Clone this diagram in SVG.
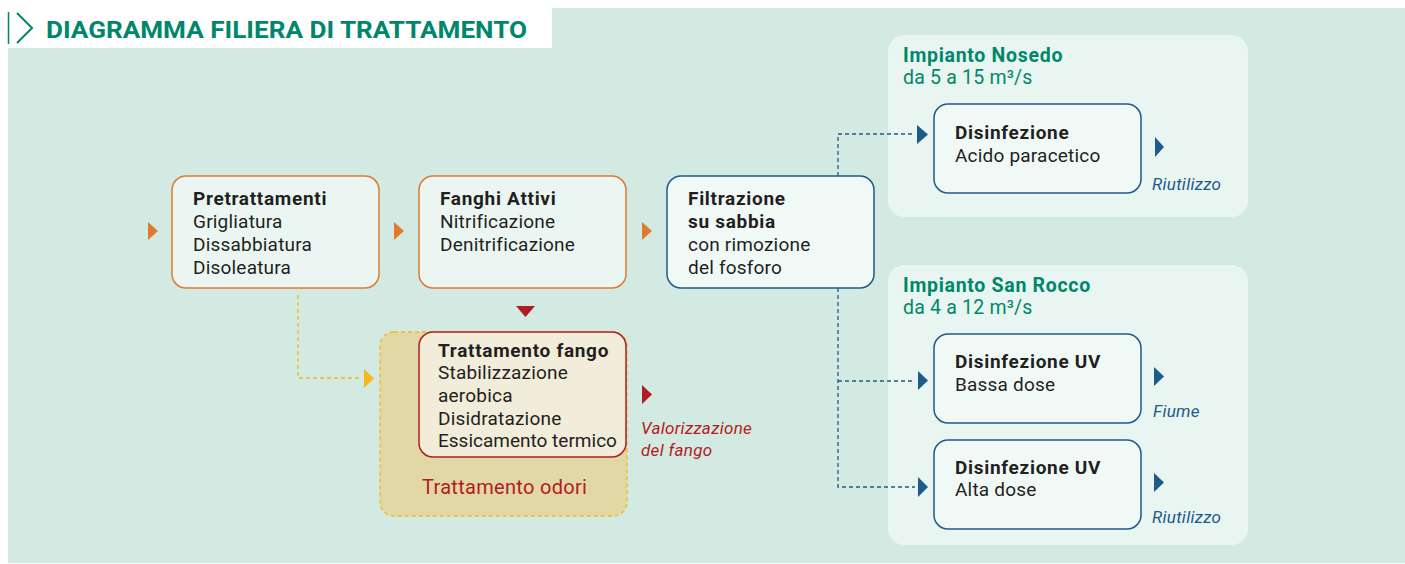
<svg xmlns="http://www.w3.org/2000/svg" width="1405" height="564" viewBox="0 0 1405 564">
<style>
text{font-family:Roboto,"Liberation Sans",sans-serif;font-size:19px;letter-spacing:0.2px;fill:#231f20}
.b{font-weight:bold;letter-spacing:0.7px}
.teal{fill:#00876a}
.h{font-size:19.5px}
.it{font-style:italic;font-size:17px;letter-spacing:0.3px}
.box{stroke-width:1.5}
.or{stroke:#e07a2e;fill:#ebf6f2}
.bl{stroke:#1f5a8c;fill:#f1f9f7}
.panel{fill:#e8f5f1}
.dashb{fill:none;stroke:#1f5a8c;stroke-width:1.3;stroke-dasharray:4 3}
.dashy{fill:none;stroke:#f6b81a;stroke-width:1.3;stroke-dasharray:4 3}
</style>
<rect x="0" y="0" width="1405" height="564" fill="#ffffff"/>
<rect x="8" y="8" width="1397" height="555" fill="#d2eae1"/>
<g id="title">
<rect x="8" y="8" width="544" height="40" fill="#ffffff"/>
<line x1="8.5" y1="12" x2="8.5" y2="44" stroke="#00876a" stroke-width="1.5"/>
<polyline points="17,13 32,28 17,43" fill="none" stroke="#00876a" stroke-width="2"/>
<text x="46" y="38" class="b teal" style="font-size:24px;letter-spacing:0" textLength="481" lengthAdjust="spacingAndGlyphs">DIAGRAMMA FILIERA DI TRATTAMENTO</text>
</g>
<g id="panel-nosedo">
<rect x="888" y="35" width="360" height="182" rx="16" class="panel"/>
<text x="903" y="62" class="b teal h">Impianto Nosedo</text>
<text x="903" y="84" class="teal h">da 5 a 15 m³/s</text>
</g>
<g id="panel-sanrocco">
<rect x="888" y="265" width="360" height="280" rx="16" class="panel"/>
<text x="903" y="292" class="b teal h">Impianto San Rocco</text>
<text x="903" y="314" class="teal h">da 4 a 12 m³/s</text>
</g>
<g id="odori">
<rect x="380" y="332" width="247" height="184" rx="14" fill="#e2d8a5" stroke="#f6b81a" stroke-width="1.3" stroke-dasharray="4 3"/>
<text x="422" y="494" style="fill:#b31b24;font-size:20px;letter-spacing:0.3px">Trattamento odori</text>
</g>
<g id="pretrattamenti">
<rect x="172" y="176" width="207" height="112" rx="14" class="box or"/>
<text x="193" y="205" class="b">Pretrattamenti</text>
<text x="193" y="228">Grigliatura</text>
<text x="193" y="251">Dissabbiatura</text>
<text x="193" y="274">Disoleatura</text>
</g>
<g id="fanghi-attivi">
<rect x="419" y="176" width="207" height="112" rx="14" class="box or"/>
<text x="440" y="205" class="b">Fanghi Attivi</text>
<text x="440" y="228">Nitrificazione</text>
<text x="440" y="251">Denitrificazione</text>
</g>
<g id="filtrazione">
<rect x="667" y="176" width="207" height="112" rx="14" class="box bl"/>
<text x="688" y="205" class="b">Filtrazione</text>
<text x="688" y="228" class="b">su sabbia</text>
<text x="688" y="251">con rimozione</text>
<text x="688" y="274">del fosforo</text>
</g>
<g id="trattamento-fango">
<rect x="419" y="332" width="207" height="125" rx="14" class="box" fill="#f2ecda" stroke="#b31b24"/>
<text x="438" y="357" class="b">Trattamento fango</text>
<text x="438" y="379">Stabilizzazione</text>
<text x="438" y="402">aerobica</text>
<text x="438" y="425">Disidratazione</text>
<text x="438" y="447" style="letter-spacing:0">Essicamento termico</text>
</g>
<g id="disinfezione">
<rect x="934" y="104" width="207" height="89" rx="14" class="box bl"/>
<text x="955" y="139" class="b">Disinfezione</text>
<text x="955" y="162">Acido paracetico</text>
</g>
<g id="uv-bassa">
<rect x="934" y="334" width="207" height="89" rx="14" class="box bl"/>
<text x="955" y="368" class="b">Disinfezione UV</text>
<text x="955" y="391">Bassa dose</text>
</g>
<g id="uv-alta">
<rect x="934" y="440" width="207" height="89" rx="14" class="box bl"/>
<text x="955" y="474" class="b">Disinfezione UV</text>
<text x="955" y="496">Alta dose</text>
</g>
<g id="connectors">
<polygon points="148,222 158,231 148,240" fill="#e07a2e"/>
<polygon points="394,222 404,231 394,240" fill="#e07a2e"/>
<polygon points="642,222 652,231 642,240" fill="#e07a2e"/>
<polygon points="516,306 535,306 525.5,317" fill="#b31b24"/>
<polyline points="298,295 298,378 360,378" class="dashy"/>
<polygon points="364,369 374,378.5 364,388" fill="#f6b81a"/>
<polygon points="642,385 652,394.5 642,404" fill="#b31b24"/>
<polyline points="838,176 838,134 915,134" class="dashb"/>
<polygon points="917,125 928,134.5 917,144" fill="#1f5a8c"/>
<polyline points="838,288 838,487 915,487" class="dashb"/>
<line x1="838" y1="381" x2="915" y2="381" class="dashb"/>
<polygon points="918,371 928,380.5 918,390" fill="#1f5a8c"/>
<polygon points="918,477 928,487 918,497" fill="#1f5a8c"/>
<polygon points="1155,137 1164,147 1155,157" fill="#1f5a8c"/>
<polygon points="1154,367 1164,376.5 1154,386" fill="#1f5a8c"/>
<polygon points="1154,473 1164,482.5 1154,492" fill="#1f5a8c"/>
</g>
<g id="labels">
<text x="641" y="434" class="it" style="fill:#b31b24">Valorizzazione</text>
<text x="641" y="456" class="it" style="fill:#b31b24">del fango</text>
<text x="1152" y="190" class="it" style="fill:#1f5a8c">Riutilizzo</text>
<text x="1153" y="417" class="it" style="fill:#1f5a8c">Fiume</text>
<text x="1152" y="523" class="it" style="fill:#1f5a8c">Riutilizzo</text>
</g>
</svg>
